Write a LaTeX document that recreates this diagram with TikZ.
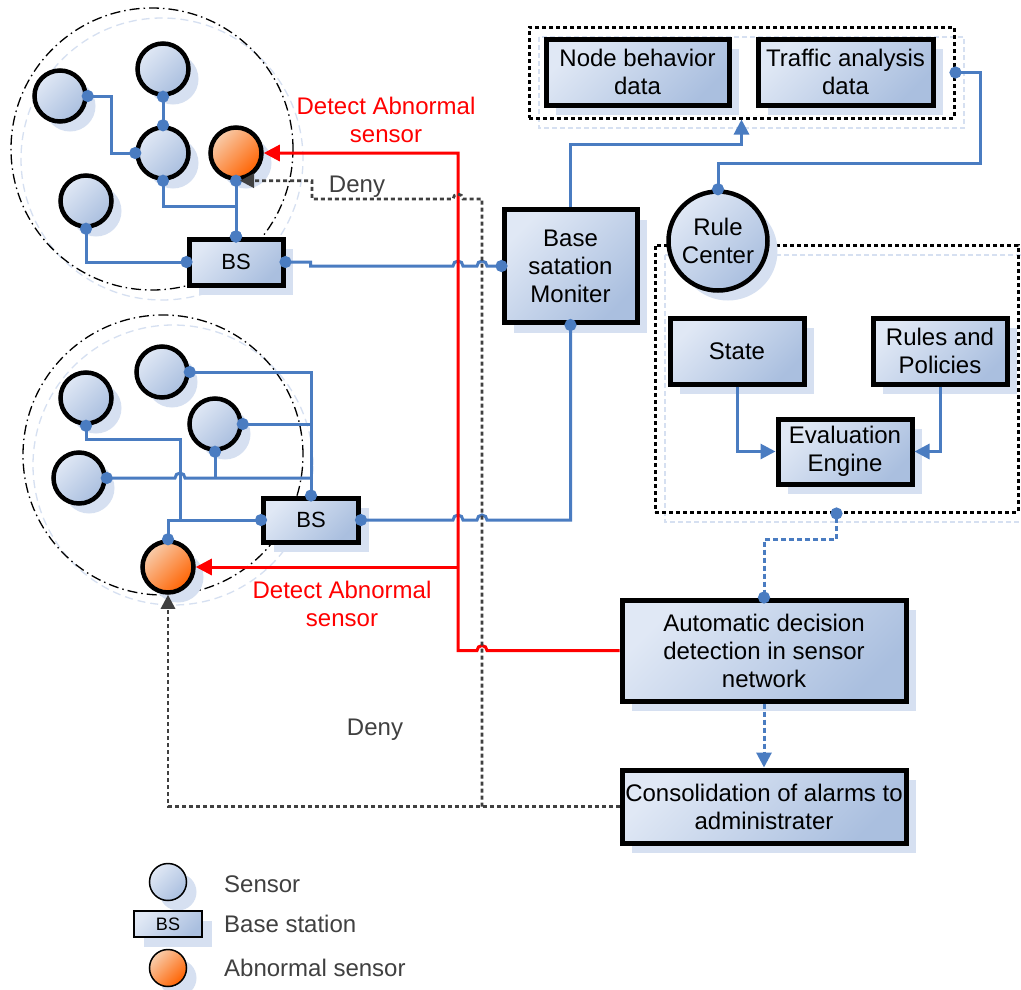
\documentclass[tikz,border=0pt]{standalone}
\usepackage{fontspec}
\setmainfont{Liberation Sans}
\usetikzlibrary{arrows.meta,shadows}
\definecolor{wireblue}{RGB}{74,124,193}
\definecolor{shblue}{RGB}{214,224,241}
\definecolor{boxlight}{RGB}{224,232,245}
\definecolor{boxdark}{RGB}{170,191,223}
\definecolor{orangelight}{RGB}{248,205,172}
\definecolor{orangedark}{RGB}{255,98,0}
\definecolor{denygray}{RGB}{64,64,64}
\begin{document}
\begin{tikzpicture}
  [x=1pt,y=-1pt,font=\fontsize{24}{28}\selectfont,
   every node/.style={inner sep=0pt,align=center},
   sh/.style={drop shadow={shadow xshift=10pt,shadow yshift=-10pt,opacity=1,fill=shblue}},
   blueshade/.style={top color=boxlight,bottom color=boxdark,shading angle=45},
   sensor/.style={circle,draw,line width=4.5pt,minimum size=51pt,blueshade,sh},
   abnormal/.style={sensor,top color=orangelight,bottom color=orangedark,shading angle=45},
   box/.style={rectangle,draw,line width=5pt,blueshade,sh},
   grp/.style={rectangle,draw,line width=3pt,dash pattern=on 4pt off 3pt},
   grpsh/.style={draw=shblue,line width=2.5pt,dash pattern=on 5pt off 3pt},
   cluster/.style={draw,line width=1.3pt,dash pattern=on 10pt off 4pt on 1.5pt off 4pt},
   wire/.style={draw=wireblue,line width=3pt,{Circle[length=12pt]}-{Circle[length=12pt]},shorten <=-6pt,shorten >=-6pt},
   wirestart/.style={draw=wireblue,line width=3pt,{Circle[length=12pt]}-,shorten <=-6pt},
   bluearr/.style={draw=wireblue,line width=3pt,-{Triangle[length=15pt,width=15pt]}},
   flowarr/.style={bluearr,dash pattern=on 5pt off 3pt},
   redarr/.style={draw=red,line width=3pt,-{Triangle[length=16pt,width=16pt]}},
   denyarr/.style={draw=denygray,line width=2.8pt,dash pattern=on 4pt off 3pt,-{Triangle[length=14pt,width=14pt]}}]
  \path[use as bounding box,fill=white] (0,0) rectangle (1021,989);

  % clusters
  \draw[shblue,line width=1.3pt,dash pattern=on 8pt off 5pt] (162,159) circle[radius=141pt];
  \draw[cluster] (152,149) circle[radius=141pt];
  \draw[shblue,line width=1.3pt,dash pattern=on 8pt off 5pt] (173,465) circle[radius=140pt];
  \draw[cluster] (163,455) circle[radius=140pt];

  \node[sensor] (s1) at (60,96) {};
  \node[sensor] (s2) at (163,69) {};
  \node[sensor] (s3) at (163,153) {};
  \node[abnormal] (s4) at (236,153) {};
  \node[sensor] (s5) at (86,201) {};
  \node[box,minimum width=94pt,minimum height=46pt,font=\fontsize{22}{26}\selectfont] (bs1) at (236,262) {BS};

  \node[sensor] (b1) at (162,372) {};
  \node[sensor] (b2) at (86,398) {};
  \node[sensor] (b3) at (215,424) {};
  \node[sensor] (b4) at (79,478) {};
  \node[abnormal] (b5) at (168,567) {};
  \node[box,minimum width=95pt,minimum height=44pt,font=\fontsize{22}{26}\selectfont] (bs2) at (311,520) {BS};

  % data and rule side
  \draw[grpsh] (539,37) rectangle (964,128);
  \node[grp,minimum width=425pt,minimum height=91pt] (topgrp) at (741.5,72.5) {};
  \node[box,minimum width=183pt,minimum height=66pt] (nbd) at (637.5,72) {Node behavior\\data};
  \node[box,minimum width=175pt,minimum height=66pt] (tad) at (845.5,72) {Traffic analysis\\data};
  \node[box,minimum width=133pt,minimum height=113pt] (bsm) at (570.5,266) {Base\\satation\\Moniter};
  \draw[grpsh] (665,255) rectangle (1028,522);
  \node[grp,minimum width=363pt,minimum height=267pt] (rgrp) at (836.5,378.5) {};
  \node[sensor,minimum size=99pt] (rc) at (718,241) {Rule\\Center};
  \node[box,minimum width=134pt,minimum height=66pt] (state) at (737,351) {State};
  \node[box,minimum width=134pt,minimum height=66pt] (rules) at (940,351) {Rules and\\Policies};
  \node[box,minimum width=134pt,minimum height=65pt] (ee) at (845,451.5) {Evaluation\\Engine};
  \node[box,minimum width=284pt,minimum height=101pt] (auto) at (764,650.5) {Automatic decision\\detection in sensor\\network};
  \node[box,minimum width=284pt,minimum height=73pt] (cons) at (764,806.5) {Consolidation of alarms to\\administrater};

  % legend
  \node[sensor,line width=1.5pt,minimum size=37pt] (legs) at (168,882) {};
  \node[box,line width=1.5pt,minimum width=68pt,minimum height=26pt,font=\fontsize{18}{20}\selectfont] (legbs) at (168,924) {BS};
  \node[abnormal,line width=1.5pt,minimum size=37pt] (lega) at (168,968) {};
  \node[anchor=west,text=denygray] (legst) at (224,884) {Sensor};
  \node[anchor=west,text=denygray] (legbst) at (224,924) {Base station};
  \node[anchor=west,text=denygray] (legat) at (224,968) {Abnormal sensor};

  % wires in the clusters
  \path[wire] (s1.east) -- ++(24,0) |- (s3.west);
  \path[wire] (s2.south) -- (s3.north);
  \path[wire] (s3.south) -- ++(0,26) -| (bs1.north);
  \path[wire] (s4.south) -- (bs1.north);
  \path[wire] (s5.south) |- (bs1.west);
  \path[wire] (b1.east) -| (bs2.north);
  \path[wirestart] (b3.east) -- (b3.east -| bs2.north);
  \path[wirestart] (b4.east) -- (175,478) arc[start angle=180,end angle=0,radius=5pt] -- (b4.east -| bs2.north);
  \path[wirestart] (b3.south) -- (b3.south |- b4.east);
  \path[wire] (b2.south) -- ++(0,14) -- ++(94,0) |- (bs2.west);
  \path[wirestart] (b5.north) |- (bs2.west);

  % wires to the monitor
  \path[wire] (bs1.east) -- ++(25,0) -- ++(0,4) -- (453,266) arc[start angle=180,end angle=0,radius=5pt]
    -- (477,266) arc[start angle=180,end angle=0,radius=5pt] -- (bsm.west);
  \path[wire] (bs2.east) -- (453,520) arc[start angle=180,end angle=0,radius=5pt]
    -- (477,520) arc[start angle=180,end angle=0,radius=5pt] -- (487,520) -| (bsm.south);
  \path[bluearr] (bsm.north) |- ([yshift=-25pt]topgrp.south) -- (topgrp.south);
  \path[wire] (topgrp.east) -- ++(25,0) |- ([yshift=26pt]rc.north) -- (rc.north);
  \path[bluearr] (state.south) |- (ee.west);
  \path[bluearr] (rules.south) |- (ee.east);
  \path[wire,dash pattern=on 5pt off 3pt] (rgrp.south) -- ++(0,26) -| (auto.north);
  \path[flowarr] (auto.south) -- (cons.north);

  % detect and deny
  \coordinate (redbus) at (458,400);
  \coordinate (denybus) at (482,400);
  \path[redarr] (auto.west) -- (487,650.5) arc[start angle=0,end angle=180,radius=5pt]
    -- (redbus |- auto.west) |- (s4.east);
  \path[redarr] (redbus |- b5.east) -- (b5.east);
  \path[denyarr] (cons.west) -| (b5.south);
  \path[denyarr] (denybus |- cons.west) -- (482,199) -- (463,199) arc[start angle=0,end angle=180,radius=5pt]
    -- (312,199) |- ([xshift=4pt]s4.south);

  \node[text=red] (det1) at (386,120) {Detect Abnormal\\sensor};
  \node[text=red] (det2) at (342,604) {Detect Abnormal\\sensor};
  \node[text=denygray] (deny1) at (357,187) {Deny};
  \node[text=denygray] (deny2) at (375,730) {Deny};
\end{tikzpicture}
\end{document}
